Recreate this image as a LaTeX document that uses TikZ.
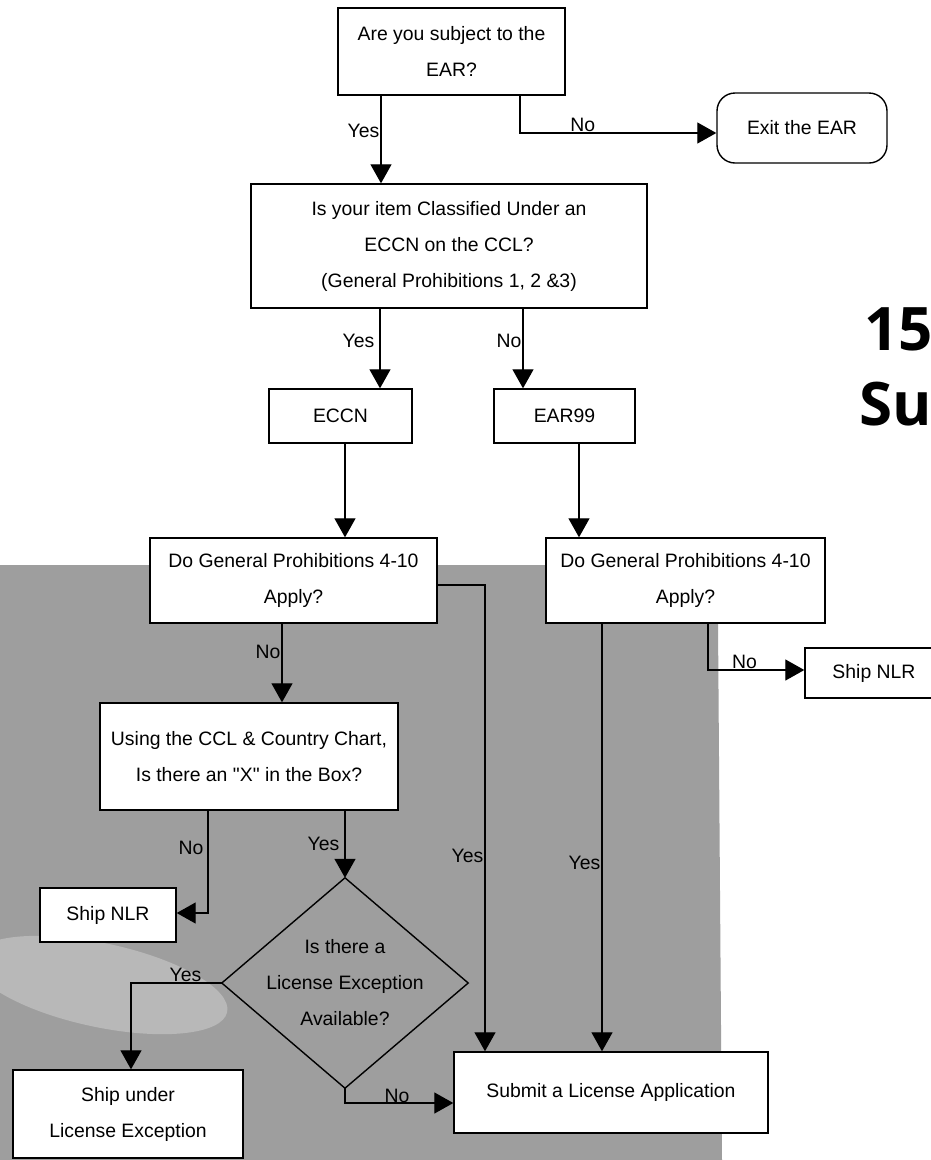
\documentclass[tikz,border=0pt]{standalone}
\usepackage{fontspec}
\setmainfont{Liberation Sans}[Ligatures=TeXOff]
\newfontfamily\bigfont{Open Sans}
\usetikzlibrary{arrows.meta}
\begin{document}
\begin{tikzpicture}[x=1pt,y=-1pt,
  every node/.style={font=\fontsize{19.4}{36}\selectfont},
  box/.style={draw, line width=1.4pt, fill=white, inner sep=0pt, align=center},
  arr/.style={line width=1.3pt, -{Triangle[length=19pt,width=21pt]}},
  lab/.style={inner sep=1pt},
  bigtxt/.style={anchor=base west, inner sep=0pt, font=\bigfont\bfseries\fontsize{60}{60}\selectfont}]
\useasboundingbox (0,0) rectangle (931,1160);
\fill[white] (0,0) rectangle (931,1160);
% scanned grey background
\fill[black!38] (0,565) -- (546,565) -- (546,623) -- (718,623) -- (722,1160) -- (0,1160) -- cycle;
\fill[black!28, rotate around={-12:(100,985)}] (100,985) ellipse [x radius=130, y radius=42];

% nodes
\node[box, minimum width=227pt, minimum height=87pt] (b1) at (451.5,51.5) {Are you subject to the\\EAR?};
\node[box, rounded corners=18pt, minimum width=170pt, minimum height=70pt] (exit) at (802,128) {Exit the EAR};
\node[box, minimum width=396pt, minimum height=124pt] (b2) at (449,246) {Is your item Classified Under an\\ECCN on the CCL?\\(General Prohibitions 1, 2 \&3)};
\node[box, minimum width=143pt, minimum height=54pt] (eccn) at (340.5,416) {ECCN};
\node[box, minimum width=141pt, minimum height=54pt] (ear99) at (564.5,416) {EAR99};
\node[box, minimum width=287pt, minimum height=85pt] (g1) at (293.5,580.5) {Do General Prohibitions 4-10\\Apply?};
\node[box, minimum width=279pt, minimum height=85pt] (g2) at (685.5,580.5) {Do General Prohibitions 4-10\\Apply?};
\node[box, minimum width=138pt, minimum height=50pt] (nlr1) at (874,673) {Ship NLR};
\node[box, minimum width=298pt, minimum height=107pt] (ccl) at (249,756.5) {Using the CCL \& Country Chart,\\Is there an "X" in the Box?};
\node[box, minimum width=136pt, minimum height=54pt] (nlr2) at (108,915) {Ship NLR};
\node[inner sep=0pt, align=center, minimum width=246pt, minimum height=210pt] (dia) at (345,983) {Is there a\\License Exception\\Available?};
\draw[line width=1.4pt] (dia.north) -- (dia.east) -- (dia.south) -- (dia.west) -- cycle;
\node[box, minimum width=230pt, minimum height=88pt] (under) at (128,1114) {Ship under\\License Exception};
\node[box, minimum width=314pt, minimum height=81pt] (sub) at (611,1092.5) {Submit a License Application};

\node[bigtxt] (t15) at (864,350) {15};
\node[bigtxt] (tsu) at (859,425) {Su};

% connectors
\draw[arr] ([xshift=-70.5pt]b1.south) -- node[lab, left, pos=0.4]{Yes} ([xshift=-70.5pt]b1.south |- b2.north);
\draw[arr] ([xshift=68.5pt]b1.south) |- node[lab, above, inner sep=0.5pt, pos=0.66]{No} ([yshift=-5pt]exit.west);
\draw[arr] ([xshift=-69pt]b2.south) -- node[lab, left, inner sep=5pt, pos=0.4]{Yes} ([xshift=-69pt]b2.south |- eccn.north);
\draw[arr] ([xshift=74pt]b2.south) -- node[lab, left, inner sep=1pt, pos=0.4]{No} ([xshift=74pt]b2.south |- ear99.north);
\draw[arr] ([xshift=4.5pt]eccn.south) -- ([xshift=4.5pt]eccn.south |- g1.north);
\draw[arr] ([xshift=14.5pt]ear99.south) -- ([xshift=14.5pt]ear99.south |- g2.north);
\draw[arr] ([xshift=-11.5pt]g1.south) -- node[lab, left, inner sep=1pt, pos=0.36]{No} ([xshift=-11.5pt]g1.south |- ccl.north);
\draw[arr] ([yshift=-4.5pt]g1.east) -| node[lab, left, inner sep=1pt, pos=0.79]{Yes} ([xshift=-126pt]sub.north);
\draw[arr] ([xshift=-83.5pt]g2.south) -- node[lab, left, inner sep=1pt, pos=0.56]{Yes} ([xshift=-83.5pt]g2.south |- sub.north);
\draw[arr] ([xshift=22.5pt]g2.south) |- node[lab, above, inner sep=1pt, pos=0.69]{No} ([yshift=3pt]nlr1.west);
\draw[arr] ([xshift=-41pt]ccl.south) |- node[lab, left, inner sep=4pt, pos=0.18]{No} ([yshift=2pt]nlr2.east);
\draw[arr] ([xshift=96pt]ccl.south) -- node[lab, left, inner sep=5pt, pos=0.49]{Yes} (dia.north);
\draw[arr] (dia.west) -| node[lab, above, inner sep=0.5pt, pos=0.2]{Yes} ([xshift=3pt]under.north);
\draw[arr] (dia.south) |- node[lab, above, inner sep=0pt, pos=0.74]{No} ([yshift=-10.5pt]sub.west);
\end{tikzpicture}
\end{document}
